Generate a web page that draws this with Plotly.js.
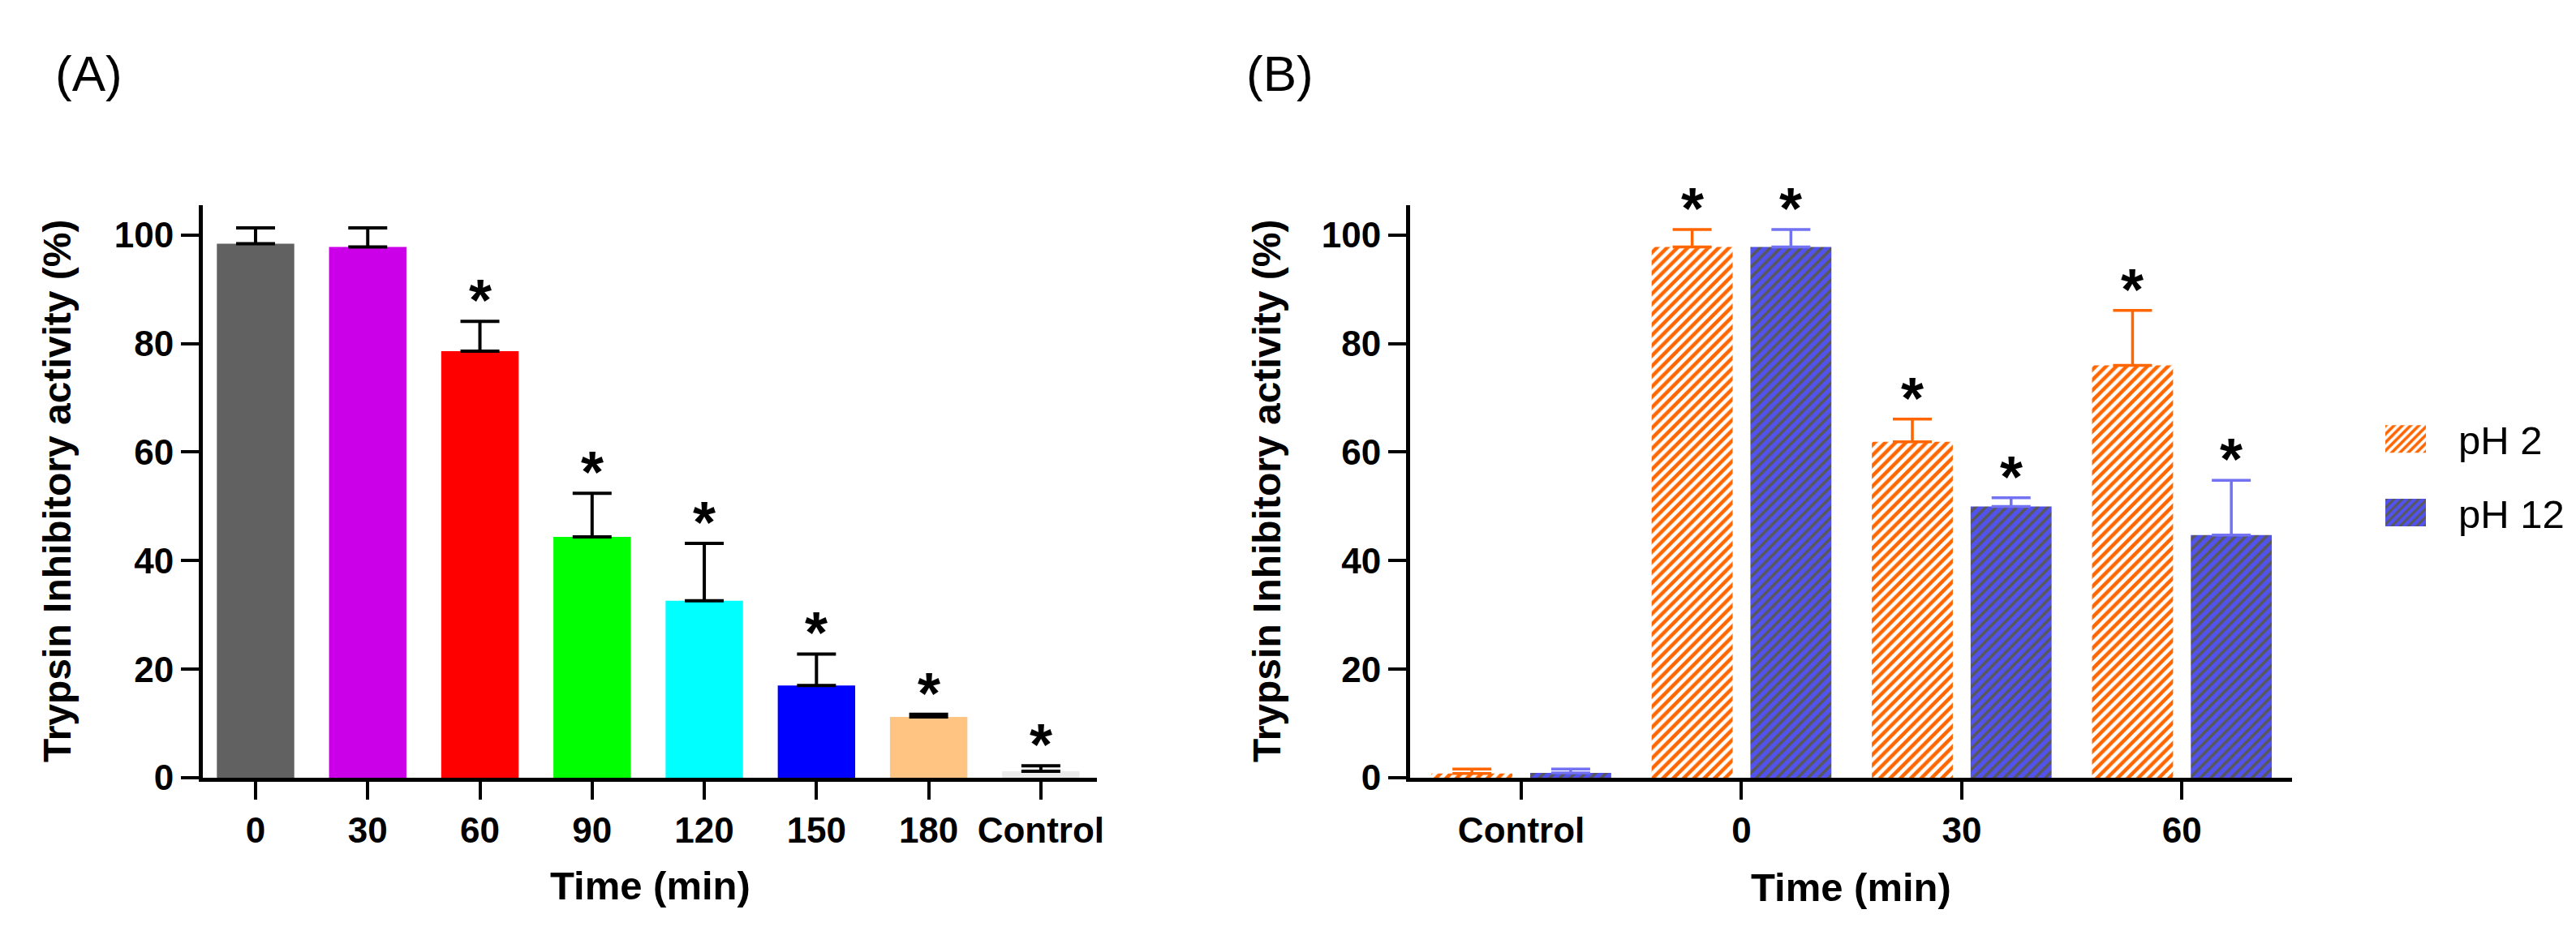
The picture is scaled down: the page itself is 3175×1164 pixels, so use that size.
<!DOCTYPE html>
<html>
<head>
<meta charset="utf-8">
<script src="https://cdn.plot.ly/plotly-3.0.1.min.js"></script>
<style>html,body{margin:0;padding:0;background:#fff}</style>
</head>
<body>
<div id="chart" style="width:3175px;height:1164px"></div>
<script>
// (A) inhibitory activity vs heating time
var timesA = ['0', '30', '60', '90', '120', '150', '180', 'Control'];
var valsA = [98.4, 97.8, 78.6, 44.4, 32.6, 17.0, 11.2, 1.2];
var errA = [2.9, 3.5, 5.5, 8.0, 10.6, 5.8, 0.5, 1.0];
var colorsA = ['#616161', '#cc00e8', '#ff0000', '#00ff00', '#00ffff', '#0000ff', '#ffc382', '#ebebeb'];
var starA = [false, false, true, true, true, true, true, true];

// (B) inhibitory activity vs time at pH 2 / pH 12
var timesB = ['Control', '0', '30', '60'];
var ph2 = [0.8, 97.8, 61.9, 76.0];
var ph2Err = [0.8, 3.2, 4.2, 10.1];
var ph12 = [0.9, 97.8, 50.0, 44.7];
var ph12Err = [0.7, 3.2, 1.6, 10.1];
var starB = [false, true, true, true];

var W = 3175, H = 1164;
var FONT = 'Liberation Sans, Arial, sans-serif';
var BARGAP = 0.103;
var zeros = function(a) { return a.map(function() { return 0; }); };

var traceA = {
    type: 'bar', x: timesA, y: valsA, width: 0.69,
    marker: {color: colorsA, line: {width: 0}},
    error_y: {type: 'data', array: errA, arrayminus: zeros(errA), symmetric: false,
              color: '#000', thickness: 4, width: 24},
    xaxis: 'x', yaxis: 'y', showlegend: false, hoverinfo: 'skip'
};
var tracePh2 = {
    type: 'bar', name: 'pH 2', x: timesB, y: ph2, legendgroup: 'a',
    marker: {color: '#ff6600', line: {width: 0},
             pattern: {shape: '/', fgcolor: '#ff6600', bgcolor: '#ffffff', size: 9, solidity: 0.5}},
    error_y: {type: 'data', array: ph2Err, arrayminus: zeros(ph2Err), symmetric: false,
              color: '#ff6600', thickness: 3.5, width: 24},
    xaxis: 'x2', yaxis: 'y2', hoverinfo: 'skip'
};
var tracePh12 = {
    type: 'bar', name: 'pH 12', x: timesB, y: ph12, legendgroup: 'b',
    marker: {color: '#5252ee', line: {width: 0},
             pattern: {shape: '/', fgcolor: '#585858', bgcolor: '#5252ee', size: 9, solidity: 0.4}},
    error_y: {type: 'data', array: ph12Err, arrayminus: zeros(ph12Err), symmetric: false,
              color: '#7272f2', thickness: 3.5, width: 24},
    xaxis: 'x2', yaxis: 'y2', hoverinfo: 'skip'
};

var tickFont = {family: FONT, size: 44, color: '#000', weight: 700};
function xAxis(dom, anchor, rng) {
    return {domain: dom, anchor: anchor, type: 'category', range: rng,
            showline: true, linewidth: 5, linecolor: '#000', showgrid: false, zeroline: false,
            ticks: 'outside', ticklen: 22, tickwidth: 4, tickcolor: '#000', tickfont: tickFont};
}
function yAxis(anchor) {
    return {domain: [205 / H, 911 / H], anchor: anchor, range: [0, 105.5],
            tick0: 0, dtick: 20, showline: true, linewidth: 5, linecolor: '#000',
            showgrid: false, zeroline: false,
            ticks: 'outside', ticklen: 22, tickwidth: 4, tickcolor: '#000', tickfont: tickFont};
}

var domA = [250 / W, 1352 / W], domB = [1738 / W, 2825 / W];

var ann = [];
function label(text, x, y, size, bold, angle) {
    ann.push({xref: 'paper', yref: 'paper', x: x / W, y: 1 - y / H, text: text, showarrow: false,
              textangle: angle || 0, xanchor: 'center', yanchor: 'middle',
              font: {family: FONT, size: size, color: '#000', weight: bold ? 700 : 400}});
}
label('(A)', 109, 91, 62, false);
label('(B)', 1577, 91, 62, false);
label('Trypsin Inhibitory activity (%)', 70, 606, 48, true, -90);
label('Trypsin Inhibitory activity (%)', 1561, 606, 48, true, -90);
label('Time (min)', (domA[0] + domA[1]) / 2 * W, 1092, 49, true);
label('Time (min)', (domB[0] + domB[1]) / 2 * W, 1094, 49, true);

function star(xref, yref, x, y) {
    ann.push({xref: xref, yref: yref, x: x, y: y, text: '*', showarrow: false,
              xanchor: 'center', yanchor: 'middle', yshift: 26,
              font: {family: FONT, size: 72, color: '#000', weight: 700}});
}
timesA.forEach(function(t, i) { if (starA[i]) star('x', 'y', i, valsA[i] + errA[i]); });
var off = (1 - BARGAP) / 4;
timesB.forEach(function(t, i) {
    if (starB[i]) {
        star('x2', 'y2', i - off, ph2[i] + ph2Err[i]);
        star('x2', 'y2', i + off, ph12[i] + ph12Err[i]);
    }
});

var layout = {
    width: W, height: H,
    margin: {l: 0, r: 0, t: 0, b: 0},
    paper_bgcolor: '#fff', plot_bgcolor: '#fff',
    font: {family: FONT, color: '#000'},
    barmode: 'group', bargap: BARGAP, bargroupgap: 0.18,
    xaxis: xAxis(domA, 'y', [-0.47, 7.5]),
    yaxis: yAxis('x'),
    xaxis2: xAxis(domB, 'y2', [-0.505, 3.5]),
    yaxis2: yAxis('x2'),
    showlegend: true,
    legend: {x: 2940 / W, xanchor: 'left', y: 1 - 503 / H, yanchor: 'top',
             font: {family: FONT, size: 49, color: '#000'}, itemwidth: 80,
             traceorder: 'grouped', tracegroupgap: 24, bgcolor: 'rgba(0,0,0,0)'},
    annotations: ann
};

Plotly.newPlot('chart', [traceA, tracePh2, tracePh12], layout, {staticPlot: true}).then(function(gd) {
    // enlarge the legend swatches to the wide boxes of the original
    gd.querySelectorAll('.legend .traces').forEach(function(item) {
        var p = item.querySelector('.legendpoints path');
        var t = item.querySelector('text.legendtext');
        if (!p || !t) return;
        var xr = t.getBoundingClientRect().left - p.getScreenCTM().e - 40;
        p.setAttribute('d', 'M' + xr + ',17H' + (xr - 68) + 'V-17H' + xr + 'Z');
    });
});
</script>
</body>
</html>
